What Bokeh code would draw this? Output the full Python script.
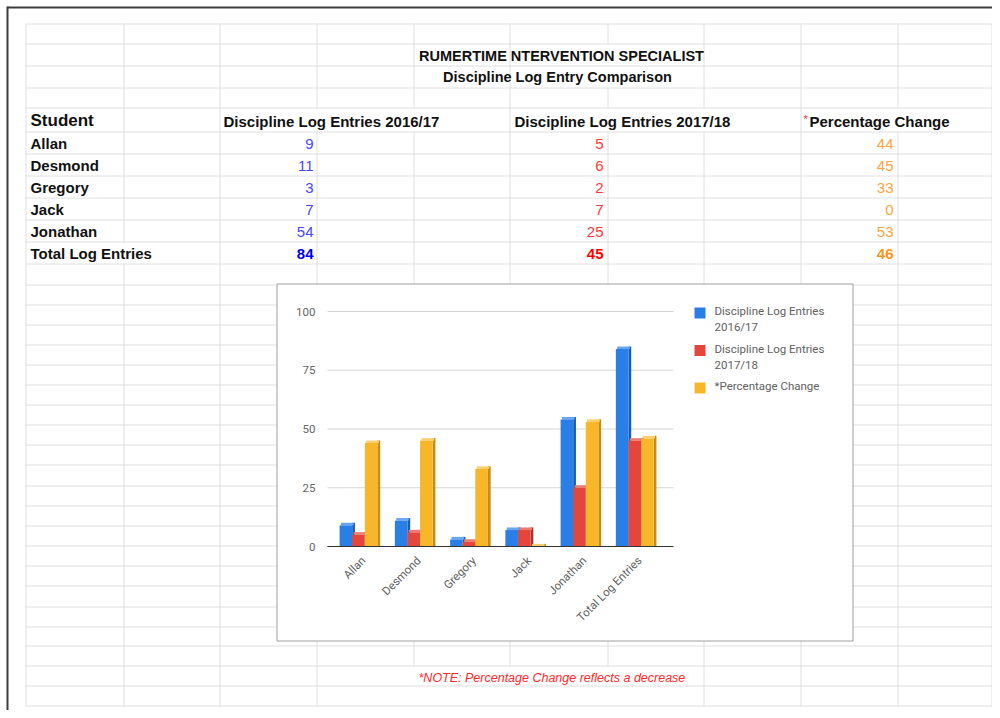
from bokeh.plotting import figure
from bokeh.models import Range1d, ColumnDataSource
from bokeh.transform import dodge
from bokeh.core.properties import value
from bokeh.embed import file_html
from bokeh.resources import INLINE
from math import pi

# ---------------- data ----------------
students = ["Allan", "Desmond", "Gregory", "Jack", "Jonathan", "Total Log Entries"]
entries_1617 = [9, 11, 3, 7, 54, 84]
entries_1718 = [5, 6, 2, 7, 25, 45]
pct_change = [44, 45, 33, 0, 53, 46]
series_names = ["Discipline Log Entries\n2016/17", "Discipline Log Entries\n2017/18", "*Percentage Change"]
y_ticks = [0, 25, 50, 75, 100]

title_lines = ["RUMERTIME NTERVENTION SPECIALIST", "Discipline Log Entry Comparison"]
header_student = ["Student"]
header_years = ["Discipline Log Entries 2016/17", "Discipline Log Entries 2017/18"]
header_pct = ["Percentage Change"]
note_text = ["*NOTE:  Percentage Change reflects a decrease"]

# ---------------- layout constants (page pixels) ----------------
PAGE_W, PAGE_H = 992, 710
COL_X = [25, 123, 219, 316, 413, 509, 607, 703, 800, 897, 991]
ROW_Y = [23, 43, 65, 87, 107, 131, 153, 175, 197, 219, 241, 263, 284, 304, 324, 344,
         364, 384, 404, 424, 444, 464, 485, 505, 525, 545, 565, 585, 606, 626, 645,
         665, 685, 705]
# vertical grid line segments hidden by overflowing text / merged cells: (row index, column x)
HIDDEN = {(1, 607), (2, 607),
          (4, 316), (4, 413), (4, 607), (4, 703), (4, 897),
          (10, 123),
          (31, 413), (31, 509), (31, 607), (32, 413), (32, 509), (32, 607)}
CHART_BOX = (277, 852, 284, 640)      # left, right, top, bottom
PLOT_L, PLOT_R = 327, 673             # chart plot area (x)
PIX_V0, PIX_V100 = 546, 311           # pixel rows of value 0 and 100
CAT0_PIX = 358.0                      # pixel column of the first category centre
CAT_STEP = 55.25                      # pixels per category
LEG_X, LEG_Y0, LEG_DY = 694, 307, 37.5
SHEET_FONT = value("Liberation Sans")
CHART_FONT = value("Roboto")
GRID_C = "#e0e0e0"

# ---------------- page figure (pixel coordinates) ----------------
p = figure(width=PAGE_W, height=PAGE_H, x_range=Range1d(0, PAGE_W), y_range=Range1d(PAGE_H, 0),
           output_backend="svg", toolbar_location=None, min_border=0,
           x_axis_location=None, y_axis_location=None, outline_line_color=None,
           background_fill_color="white", border_fill_color="white")
p.grid.visible = False

# spreadsheet grid
hy = [y + 0.5 for y in ROW_Y]
p.segment(x0=[COL_X[0]] * len(hy), x1=[COL_X[-1] + 1] * len(hy), y0=hy, y1=hy,
          line_color=GRID_C, line_width=1)
vx, vy0, vy1 = [], [], []
for i in range(len(ROW_Y) - 1):
    for cx in COL_X:
        if (i, cx) in HIDDEN:
            continue
        vx.append(cx + 0.5)
        vy0.append(ROW_Y[i])
        vy1.append(ROW_Y[i + 1] + 1)
p.segment(x0=vx, x1=vx, y0=vy0, y1=vy1, line_color=GRID_C, line_width=1)
# dark scan border (top & left)
p.segment(x0=[7, 7], x1=[PAGE_W, 7], y0=[7, 6], y1=[7, PAGE_H], line_color="#3c3c3c", line_width=2)

# titles and table
p.text(x=[561, 557], y=[55, 76], text=title_lines, text_align="center", text_baseline="middle",
       text_font=SHEET_FONT, text_font_style="bold", text_font_size="14.5px", text_color="#111111")
p.text(x=[30], y=[120], text=header_student, text_baseline="middle", text_font=SHEET_FONT,
       text_font_style="bold", text_font_size="17px", text_color="#111111")
p.text(x=[223, 514], y=[121, 121], text=header_years, text_baseline="middle",
       text_font=SHEET_FONT, text_font_style="bold", text_font_size="15px", text_color="#111111")
p.text(x=[803], y=[118], text=["*"], text_baseline="middle", text_font=SHEET_FONT,
       text_font_size="11px", text_color="#ff2a2a")
p.text(x=[809], y=[121], text=header_pct, text_baseline="middle",
       text_font=SHEET_FONT, text_font_style="bold", text_font_size="15px", text_color="#111111")
ys = [(ROW_Y[5 + i] + ROW_Y[6 + i]) / 2 + 1 for i in range(len(students))]
p.text(x=[30] * len(students), y=ys, text=students, text_baseline="middle", text_font=SHEET_FONT,
       text_font_style="bold", text_font_size="15px", text_color="#111111")
table_cols = [(entries_1617, 313, "#4646ff", "#0000ee"),
              (entries_1718, 603, "#ff3a3a", "#ff0000"),
              (pct_change, 893, "#f9a644", "#f7941d")]
for vals, xr, c_norm, c_tot in table_cols:
    txt = [str(v) for v in vals]
    p.text(x=[xr] * (len(vals) - 1), y=ys[:-1], text=txt[:-1], text_align="right",
           text_baseline="middle", text_font=SHEET_FONT, text_font_size="15px", text_color=c_norm)
    p.text(x=[xr], y=ys[-1:], text=txt[-1:], text_align="right", text_baseline="middle",
           text_font=SHEET_FONT, text_font_style="bold", text_font_size="15px", text_color=c_tot)
p.text(x=[418], y=[677], text=note_text, text_baseline="middle", text_font=SHEET_FONT,
       text_font_style="italic", text_font_size="12.5px", text_color="#ff2a2a")

# chart box (white card with grey border)
l, r, t, b = CHART_BOX
p.quad(left=[l - 0.5], right=[r + 0.5], top=[t - 0.5], bottom=[b + 0.5],
       fill_color="white", line_color="#a0a0a0", line_width=1)

# ---------------- chart scales ----------------
pix_per_val = (PIX_V0 - PIX_V100) / 100.0
p.extra_y_ranges = {"cy": Range1d(start=(PIX_V0 - PAGE_H) / pix_per_val, end=PIX_V0 / pix_per_val)}
p.extra_x_ranges = {"cx": Range1d(start=-CAT0_PIX / CAT_STEP, end=(PAGE_W - CAT0_PIX) / CAT_STEP)}

# gridlines
p.segment(x0=[PLOT_L] * len(y_ticks), x1=[PLOT_R] * len(y_ticks), y0=y_ticks, y1=y_ticks,
          y_range_name="cy", line_color="#d6d6d6", line_width=1)

W = 0.228   # bar width in category units
D = 0.05    # 3D depth (side face)
H = 1.1     # 3D top face height (value units)
src = ColumnDataSource(dict(
    student=students,
    pos=list(range(len(students))),
    v1617=entries_1617, v1718=entries_1718, pct=pct_change,
    v1617_top=[v + H for v in entries_1617],
    v1718_top=[v + H for v in entries_1718],
    pct_top=[v + H for v in pct_change],
))
series = [("v1617", -W, "#2a7fe6", "#6aa6ef", "#1b5cb3"),
          ("v1718", 0.0, "#e4463b", "#ee7b72", "#a9332a"),
          ("pct", W, "#f8b62b", "#fbcf6e", "#c88b13")]
for key, off, c_front, c_top, c_side in series:
    p.vbar(x=dodge("pos", off + W / 2 + D / 2), width=D,
           top=key + "_top", bottom=0, source=src, fill_color=c_side, line_color=None,
           x_range_name="cx", y_range_name="cy")
    p.vbar(x=dodge("pos", off + D / 2), width=W,
           top=key + "_top", bottom=key, source=src, fill_color=c_top, line_color=None,
           x_range_name="cx", y_range_name="cy")
    p.vbar(x=dodge("pos", off), width=W, top=key, bottom=0,
           source=src, fill_color=c_front, line_color=None,
           x_range_name="cx", y_range_name="cy")

# baseline
p.segment(x0=[PLOT_L], x1=[PLOT_R], y0=[0], y1=[0], y_range_name="cy",
          line_color="#333333", line_width=1.2)

# y tick labels
p.text(x=[PLOT_L - 12] * len(y_ticks), y=y_ticks, text=[str(v) for v in y_ticks],
       y_range_name="cy", text_align="right", text_baseline="middle",
       text_font=CHART_FONT, text_font_size="11.5px", text_color="#666666")
# category labels (rotated 45 degrees)
p.text(x=dodge("pos", 0.09), y=0, text="student", source=src,
       x_range_name="cx", y_range_name="cy", angle=pi / 4, y_offset=12,
       text_align="right", text_baseline="middle",
       text_font=CHART_FONT, text_font_size="11.5px", text_color="#5f5f5f")

# legend (square + label for each series)
leg_tops = [LEG_Y0 + i * LEG_DY for i in range(len(series_names))]
p.rect(x=[LEG_X + 5.5] * len(series_names), y=[t + 5.5 for t in leg_tops], width=11, height=11,
       fill_color=[s[2] for s in series], line_color=None)
p.text(x=[LEG_X + 20] * len(series_names), y=[t - 3.5 for t in leg_tops], text=series_names,
       text_align="left", text_baseline="top", text_line_height=1.15,
       text_font=CHART_FONT, text_font_size="11.5px", text_color="#616161")

with open("out.html", "w") as f:
    f.write(file_html(p, INLINE))
